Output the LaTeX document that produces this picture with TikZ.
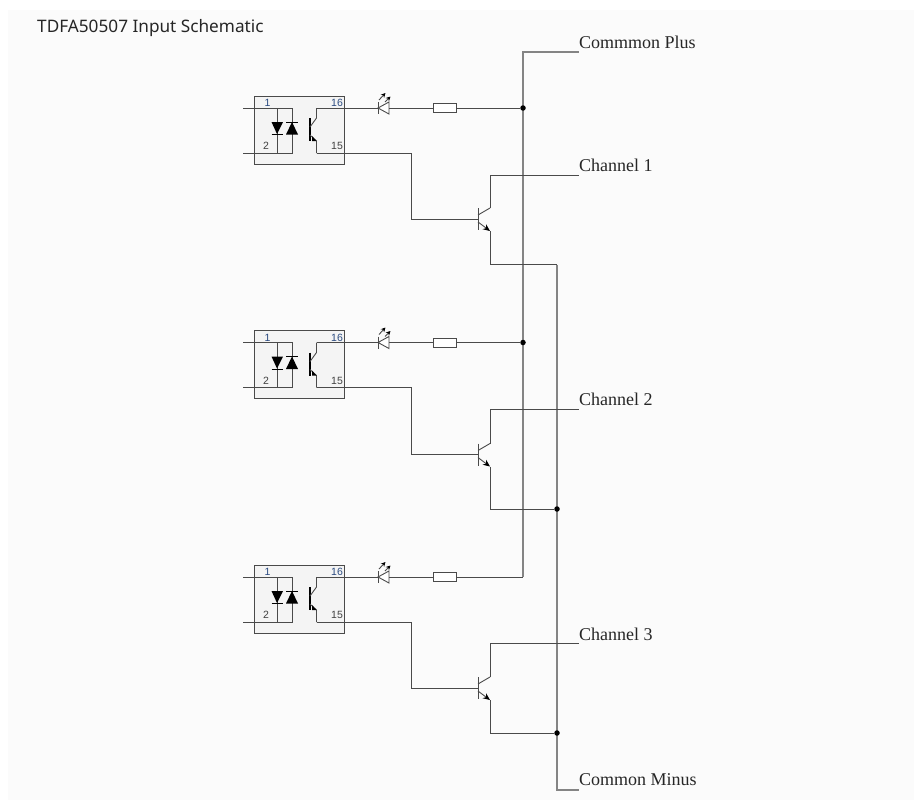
\documentclass[tikz,border=0pt]{standalone}
\usepackage{fontspec}
\setmainfont{Liberation Serif}
\newfontfamily\titlefont{Noto Sans}
\newfontfamily\pinfont{Liberation Sans}
\usetikzlibrary{arrows.meta}
\definecolor{panelgray}{HTML}{FBFBFB}
\definecolor{boxgray}{HTML}{F4F4F4}
\definecolor{wiregray}{HTML}{4A4A4A}
\definecolor{railgray}{HTML}{848484}
\definecolor{pinblue}{HTML}{2A4A80}
\tikzset{
  wire/.style={draw=wiregray,line width=0.9pt},
  rail/.style={draw=railgray,line width=1.2pt},
  junction/.style={circle,fill=black,inner sep=0pt,minimum size=5.5pt},
  resistor/.style={rectangle,draw=wiregray,fill=white,line width=0.9pt,minimum width=23pt,minimum height=9pt,inner sep=0pt},
  label/.style={anchor=base west,inner sep=0pt,font=\fontsize{18}{20}\selectfont,text=black!85},
  pinlabel/.style={inner sep=0pt,font=\pinfont\fontsize{10.5}{11}\selectfont},
  optocoupler/.pic={
    \draw[wire,fill=boxgray] (0,0) rectangle (90,68);
    \coordinate (in1) at (-11,12);
    \coordinate (in2) at (-11,57);
    \coordinate (c) at (62.5,12);
    \coordinate (e) at (62.5,57);
    \node[pinlabel,text=pinblue] (p1) at (13.5,7) {1};
    \node[pinlabel,text=black!75] (p2) at (12,50) {2};
    \node[pinlabel,text=pinblue] (p16) at (83,7) {16};
    \node[pinlabel,text=black!75] (p15) at (83,50) {15};
    \draw[wire] (in1) -- (38,12) -- (38,57) -- (in2);
    \draw[wire] (23,12) -- (23,57);
    \fill[black] (17.5,26) -- (29,26) -- (23,38) -- cycle;
    \draw[black,line width=1pt] (17.5,38.5) -- (29,38.5);
    \fill[black] (32,38.5) -- (44,38.5) -- (38,26) -- cycle;
    \draw[black,line width=1pt] (32,26) -- (44,26);
    \draw[black,line width=2pt] (56,22) -- (56,45);
    \draw[wire] (56,31) -- (62.5,22) -- (c);
    \draw[wire] (56,39) -- (62.5,45) -- (e);
    \fill[black] (58,40) -- (62.5,45) -- (58,45) -- cycle;
  },
  ledsymbol/.pic={
    \coordinate (k) at (0,0);
    \coordinate (a) at (11,0);
    \draw[wire,fill=white] (11,-6) -- (11,6) -- (0,0) -- cycle;
    \draw[wire] (0,-6) -- (0,6);
    \draw[wire,-{Stealth[length=4.5pt,width=4.5pt,black]}] (1,-8) -- (7.5,-15);
    \draw[wire,-{Stealth[length=4.5pt,width=4.5pt,black]}] (7,-6) -- (12.5,-11.5);
  },
  npn/.pic={
    \coordinate (b) at (0,0);
    \coordinate (c) at (12,-11);
    \coordinate (e) at (12,12);
    \draw[wire] (0,-11) -- (0,11);
    \draw[wire] (0,-4) -- (c);
    \draw[wire,-{Stealth[length=7pt,width=6pt,black]}] (0,3) -- (e);
  }
}
\begin{document}
\begin{tikzpicture}[x=1pt,y=-1pt]
  \useasboundingbox (0,0) rectangle (914,803);
  \fill[panelgray] (8,10) rectangle (914,800);
  \node[anchor=base west,inner sep=0pt,font=\titlefont\fontsize{17.2}{20}\selectfont,text=black!85] (title) at (37,32) {TDFA50507 Input Schematic};

  % rails
  \coordinate (pluscorner) at (523,577);
  \coordinate (plusend) at (579,52);
  \coordinate (minustop) at (557,264.5);
  \coordinate (minusend) at (579,790);
  \coordinate (ch1) at (579,175);
  \coordinate (ch2) at (579,409);
  \coordinate (ch3) at (579,643);
  \draw[rail] (pluscorner) |- (plusend);
  \draw[rail] (minustop) |- (minusend);
  \node[junction] (d1) at (523,108) {};
  \node[junction] (d2) at (523,342.5) {};
  \node[junction] (d3) at (557,509) {};
  \node[junction] (d4) at (557,733) {};

  \pic (o1) at (254,96) {optocoupler};
  \pic (o2) at (254,330.5) {optocoupler};
  \pic (o3) at (254,565) {optocoupler};
  \pic (l1) at (378,108) {ledsymbol};
  \pic (l2) at (378,342.5) {ledsymbol};
  \pic (l3) at (378,577) {ledsymbol};
  \pic (q1) at (478,219) {npn};
  \pic (q2) at (478,454.5) {npn};
  \pic (q3) at (478,688) {npn};
  \node[resistor] (r1) at (444.5,108) {};
  \node[resistor] (r2) at (444.5,342.5) {};
  \node[resistor] (r3) at (444.5,577) {};

  \draw[wire] (o1c) -- (l1k);
  \draw[wire] (l1a) -- (r1);
  \draw[wire] (r1) -- (d1);
  \draw[wire] (o2c) -- (l2k);
  \draw[wire] (l2a) -- (r2);
  \draw[wire] (r2) -- (d2);
  \draw[wire] (o3c) -- (l3k);
  \draw[wire] (l3a) -- (r3);
  \draw[wire] (r3) -- (pluscorner);

  \draw[wire] (o1e) -- ++(94.5,0) |- (q1b);
  \draw[wire] (o2e) -- ++(94.5,0) |- (q2b);
  \draw[wire] (o3e) -- ++(94.5,0) |- (q3b);

  \draw[wire] (q1c) |- (ch1);
  \draw[wire] (q2c) |- (ch2);
  \draw[wire] (q3c) |- (ch3);
  \draw[wire] (q1e) |- (minustop);
  \draw[wire] (q2e) |- (d3);
  \draw[wire] (q3e) |- (d4);

  \node[label] (lplus) at (579,48) {Commmon Plus};
  \node[label] (lch1) at (579,171) {Channel 1};
  \node[label] (lch2) at (579,405) {Channel 2};
  \node[label] (lch3) at (579,640) {Channel 3};
  \node[label] (lminus) at (579,785) {Common Minus};
\end{tikzpicture}
\end{document}
